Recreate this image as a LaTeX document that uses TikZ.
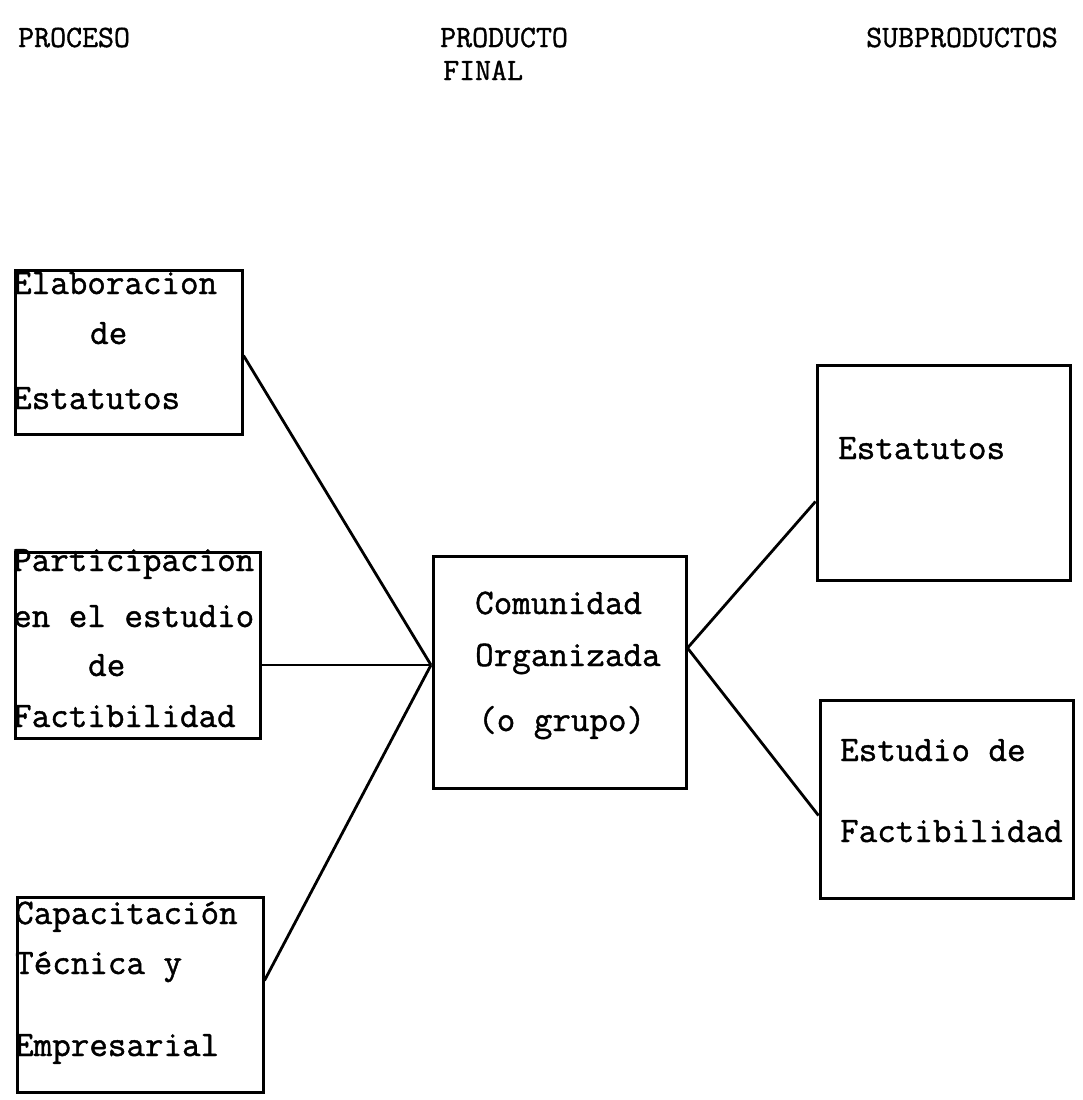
\documentclass[tikz,border=0pt]{standalone}
\usepackage{fontspec}
\newfontfamily\twfont[FakeBold=1.2]{Latin Modern Mono}
\begin{document}
\begin{tikzpicture}[x=1pt,y=-1pt,
  box/.style={draw,line width=3pt,inner sep=0pt,rectangle},
  conn/.style={line width=2.8pt},
  txt/.style={anchor=base west,inner sep=0pt,font=\twfont\fontsize{36}{40}\selectfont},
  hdr/.style={anchor=base west,inner sep=0pt,font=\twfont\fontsize{31}{34}\selectfont}]
\useasboundingbox (0,0) rectangle (1082,1100);
% headers
\node[hdr] (h1) at (18,47) {PROCESO};
\node[hdr] (h2) at (440,47) {PRODUCTO};
\node[hdr] (h3) at (443,80) {FINAL};
\node[hdr] (h4) at (866,47) {SUBPRODUCTOS};
% boxes
\node[box,minimum width=227pt,minimum height=164pt] (b1) at (128.5,352) {};
\node[box,minimum width=245pt,minimum height=186pt] (b2) at (137.5,645) {};
\node[box,minimum width=246pt,minimum height=195pt] (b3) at (140,994.5) {};
\node[box,minimum width=253pt,minimum height=232pt] (c) at (559.5,672) {};
\node[box,minimum width=253pt,minimum height=215pt] (e1) at (943.5,472.5) {};
\node[box,minimum width=253pt,minimum height=198pt] (e2) at (946.5,799) {};
% texts
\node[txt] (t11) at (13,294) {Elaboracion};
\node[txt] (t12) at (90,344) {de};
\node[txt] (t13) at (13,409) {Estatutos};
\node[txt] (t21) at (13,571) {Participacion};
\node[txt] (t22) at (13,627) {en el estudio};
\node[txt] (t23) at (88,676) {de};
\node[txt] (t24) at (13,727) {Factibilidad};
\node[txt] (t31) at (15,924) {Capacitación};
\node[txt] (t32) at (15,974) {Técnica y};
\node[txt] (t33) at (15,1056) {Empresarial};
\node[txt] (c1) at (475,614) {Comunidad};
\node[txt] (c2) at (475,666) {Organizada};
\node[txt] (c3) at (478,731) {(o grupo)};
\node[txt] (e11) at (838,459) {Estatutos};
\node[txt] (e21) at (840,761) {Estudio de};
\node[txt] (e22) at (840,842) {Factibilidad};
% connectors
\coordinate (m) at (431,665);
\draw[conn] ([yshift=-87pt]b1.north east) -- (m);
\draw[conn] ([yshift=-20pt]b2.east) -- (m);
\draw[conn] ([yshift=-85pt]b3.north east) -- (m);
\draw[conn] ([yshift=-138pt]e1.north west) -- ([yshift=24pt]c.east) -- ([yshift=-117pt]e2.north west);
\end{tikzpicture}
\end{document}
